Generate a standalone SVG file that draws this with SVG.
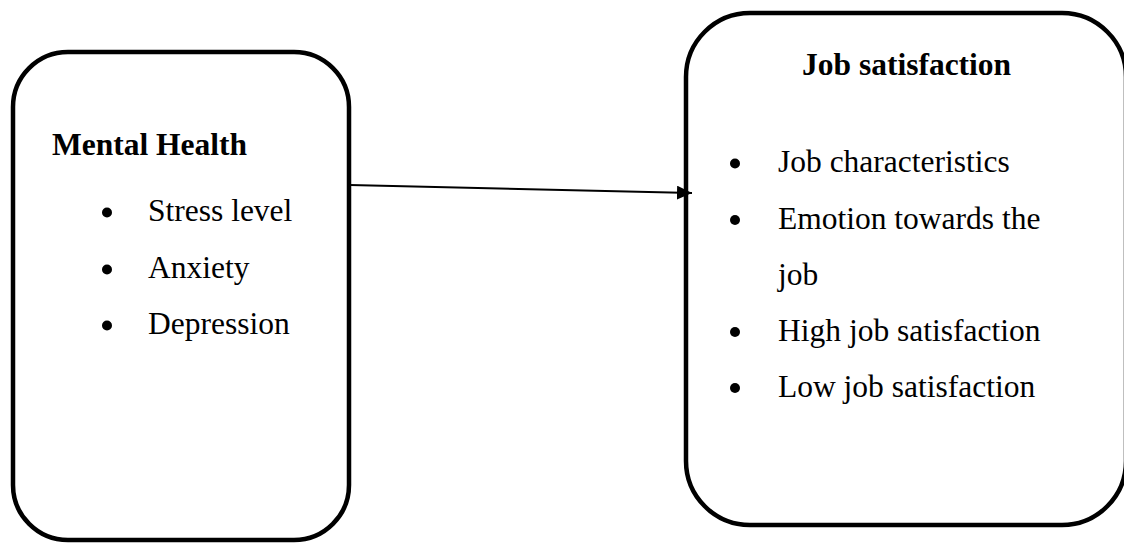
<svg xmlns="http://www.w3.org/2000/svg" width="1124" height="543" viewBox="0 0 1124 543">
<style>
.box{fill:#fff;stroke:#000;stroke-width:4.5}
.t{font-family:"Liberation Serif","Times New Roman",serif;font-size:31.5px;fill:#000}
.b{font-weight:bold}
.dot{fill:#000}
.conn{stroke:#000;stroke-width:2;fill:none}
</style>
<defs>
<marker id="arr" markerWidth="16" markerHeight="14" refX="15" refY="7" orient="auto" markerUnits="userSpaceOnUse">
<path d="M0,0 L15,7 L0,14 Z" fill="#000"/>
</marker>
</defs>
<rect width="1124" height="543" fill="#fff"/>
<g id="mental-health">
<rect class="box" x="13" y="52" width="336" height="488" rx="55" ry="55"/>
<text class="t b" x="52" y="155">Mental Health</text>
<circle class="dot" cx="107" cy="212.5" r="5"/>
<text class="t" x="148" y="221">Stress level</text>
<circle class="dot" cx="107" cy="269.5" r="5"/>
<text class="t" x="148" y="278">Anxiety</text>
<circle class="dot" cx="107" cy="325.5" r="5"/>
<text class="t" x="148" y="334">Depression</text>
</g>
<g id="job-satisfaction">
<rect class="box" x="686" y="13" width="440" height="512" rx="64" ry="64"/>
<text class="t b" x="802" y="75">Job satisfaction</text>
<circle class="dot" cx="735" cy="163.5" r="5"/>
<text class="t" x="778" y="172">Job characteristics</text>
<circle class="dot" cx="735" cy="220" r="5"/>
<text class="t" x="778" y="229">Emotion towards the</text>
<text class="t" x="778" y="285">job</text>
<circle class="dot" cx="735" cy="332" r="5"/>
<text class="t" x="778" y="341">High job satisfaction</text>
<circle class="dot" cx="735" cy="388" r="5"/>
<text class="t" x="778" y="397">Low job satisfaction</text>
</g>
<g id="connectors">
<line class="conn" x1="350" y1="185" x2="692" y2="193" marker-end="url(#arr)"/>
</g>
</svg>
